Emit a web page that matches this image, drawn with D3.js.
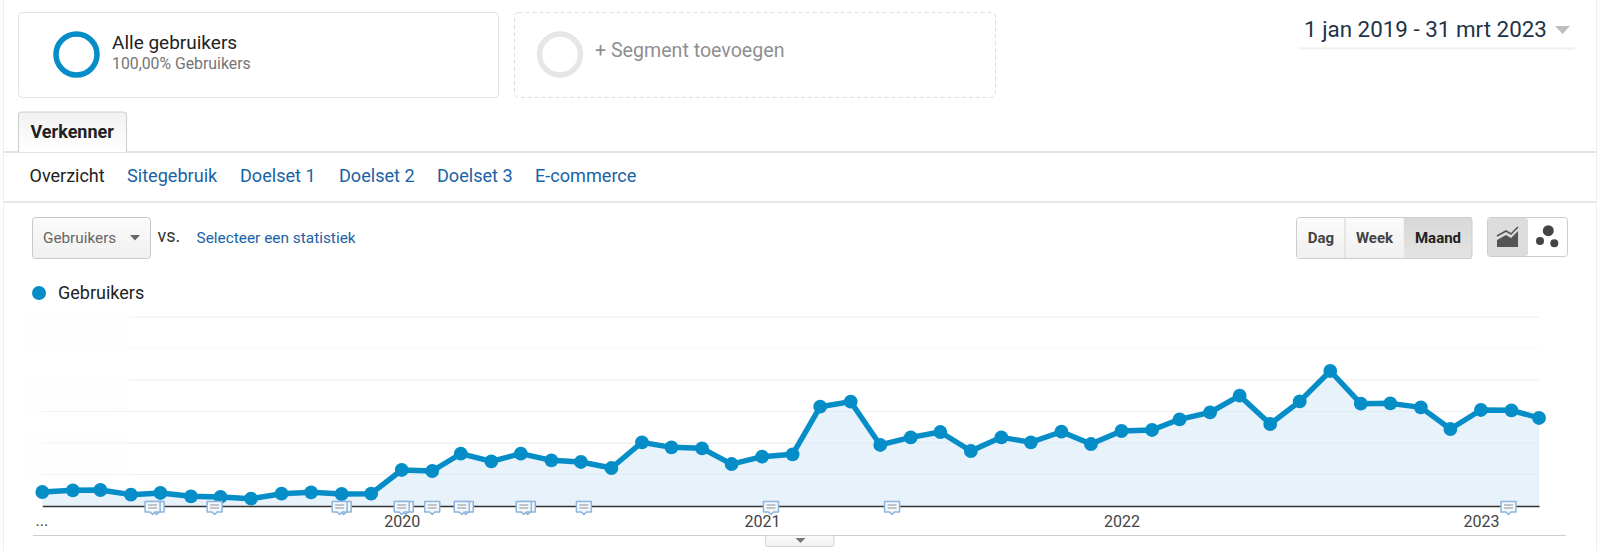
<!DOCTYPE html>
<html>
<head>
<meta charset="utf-8">
<script src="https://d3js.org/d3.v7.min.js"></script>
<style>
  html, body { margin: 0; padding: 0; background: #fff; overflow: hidden; }
  svg { display: block; font-family: Roboto, sans-serif; }
</style>
</head>
<body>
<svg id="chart" width="1600" height="551"></svg>
<script>
// months on the x axis
var months = [
  "2019-01","2019-02","2019-03","2019-04","2019-05","2019-06","2019-07","2019-08","2019-09","2019-10","2019-11","2019-12",
  "2020-01","2020-02","2020-03","2020-04","2020-05","2020-06","2020-07","2020-08","2020-09","2020-10","2020-11","2020-12",
  "2021-01","2021-02","2021-03","2021-04","2021-05","2021-06","2021-07","2021-08","2021-09","2021-10","2021-11","2021-12",
  "2022-01","2022-02","2022-03","2022-04","2022-05","2022-06","2022-07","2022-08","2022-09","2022-10","2022-11","2022-12",
  "2023-01","2023-02","2023-03"
];

// the y labels are blurred in the picture, so the unit is an estimate
var users = [
  444, 498, 508, 359, 413, 308, 286, 232, 390, 435, 381, 390,
  1143, 1111, 1660, 1419, 1660, 1451, 1397, 1206, 2022, 1863, 1832, 1333,
  1565, 1641, 3152, 3311, 1937, 2181, 2349, 1746, 2181, 2022, 2359, 1968,
  2381, 2413, 2752, 2975, 3502, 2603, 3324, 4286, 3248, 3260, 3133, 2444,
  3048, 3038, 2794
];

var gridValues = [1000, 2000, 3000, 4000, 5000, 6000];
var yearTicks = ["2020-01", "2021-01", "2022-01", "2023-01"];
var yearLabels = ["2020", "2021", "2022", "2023"];
var annotationDates = ["2019-04-23","2019-06-25","2019-10-30","2020-01-01","2020-02-01","2020-03-02","2020-05-04","2020-07-04","2021-01-10","2021-05-13","2023-01-29"];
var doubleNotes = ["2019-04-23","2019-10-30","2020-01-01","2020-03-02","2020-05-04"];
var navItems = ["Sitegebruik", "Doelset 1", "Doelset 2", "Doelset 3", "E-commerce"];
var navStarts = [127, 240, 339, 437, 535];

var parseMonth = d3.utcParse("%Y-%m");
var parseDay = d3.utcParse("%Y-%m-%d");
var blue = "#058dc7", link = "#1a62a6";

var svg = d3.select("#chart");
var defs = svg.append("defs");

function gradient(id, top, bottom) {
  var g = defs.append("linearGradient").attr("id", id).attr("x1", 0).attr("x2", 0).attr("y1", 0).attr("y2", 1);
  g.append("stop").attr("offset", "0%").attr("stop-color", top);
  g.append("stop").attr("offset", "100%").attr("stop-color", bottom);
}
gradient("btn", "#fbfbfb", "#f0f0f0");
gradient("tab", "#f1f1f1", "#ffffff");
gradient("active", "#d8d8d8", "#e4e4e4");
defs.append("filter").attr("id", "smudge").attr("x", "-20%").attr("y", "-20%").attr("width", "140%").attr("height", "140%")
  .append("feGaussianBlur").attr("stdDeviation", 4);

function label(x, y, str, size, color, weight, anchor) {
  return svg.append("text").attr("x", x).attr("y", y).text(str)
    .attr("font-size", size).attr("fill", color)
    .attr("font-weight", weight || 400).attr("text-anchor", anchor || "start");
}
function hline(x1, x2, y, color, w) {
  svg.append("line").attr("x1", x1).attr("x2", x2).attr("y1", y).attr("y2", y).attr("stroke", color).attr("stroke-width", w || 1);
}
function box(x, y, w, h, fill, stroke, r) {
  return svg.append("rect").attr("x", x).attr("y", y).attr("width", w).attr("height", h)
    .attr("fill", fill).attr("stroke", stroke).attr("rx", r || 0);
}
function triangle(cx, top, halfW, h, color) {
  svg.append("path").attr("fill", color)
    .attr("d", d3.line()([[cx - halfW, top], [cx + halfW, top], [cx, top + h]]) + "Z");
}

// outer frame
svg.append("line").attr("x1", 3.5).attr("x2", 3.5).attr("y1", 0).attr("y2", 551).attr("stroke", "#eeeeee");
svg.append("line").attr("x1", 1596.5).attr("x2", 1596.5).attr("y1", 0).attr("y2", 551).attr("stroke", "#eeeeee");

// segment cards
box(18.5, 12.5, 480, 85, "#fff", "#e2e2e2", 4);
svg.append("circle").attr("cx", 76.5).attr("cy", 54.5).attr("r", 20.5).attr("fill", "none").attr("stroke", blue).attr("stroke-width", 5.5);
label(112, 49, "Alle gebruikers", 19, "#222");
label(112, 69, "100,00% Gebruikers", 15.8, "#757575");

box(514.5, 12.5, 481, 85, "#fff", "#dddddd", 4).attr("stroke-dasharray", "4 3");
svg.append("circle").attr("cx", 560).attr("cy", 54.5).attr("r", 20.5).attr("fill", "none").attr("stroke", "#e6e6e6").attr("stroke-width", 5.5);
label(595, 57, "+ Segment toevoegen", 19.6, "#8f8f8f");

// date range
label(1304, 37, "1 jan 2019 - 31 mrt 2023", 22.4, "#1f3347");
triangle(1562.5, 26, 7.5, 8, "#bdbdbd");
hline(1299, 1575, 48.5, "#eeeeee", 2);

// tab + nav
hline(4, 1596, 152, "#c9c9c9", 1);
svg.append("path").attr("d", "M18.5,152V115a3,3 0 0 1 3,-3H123.5a3,3 0 0 1 3,3V152")
  .attr("fill", "url(#tab)").attr("stroke", "#cccccc");
label(30.5, 138, "Verkenner", 18, "#222", 700);
label(29.5, 182, "Overzicht", 18, "#222");
svg.selectAll("text.nav").data(navItems).enter().append("text").attr("class", "nav")
  .attr("x", function (d, i) { return navStarts[i]; }).attr("y", 182)
  .attr("font-size", 18.1).attr("fill", link).text(function (d) { return d; });
hline(4, 1596, 202, "#dedede", 1.5);

// metric selector
box(32.5, 217.5, 118, 41, "url(#btn)", "#c8c8c8", 3);
label(43, 243, "Gebruikers", 15.3, "#666");
triangle(135, 235, 5, 5.5, "#666");
label(157.5, 242, "vs.", 18, "#333");
label(196.5, 243, "Selecteer een statistiek", 15.4, link);

// Dag / Week / Maand
box(1403.5, 217.5, 68.5, 41, "url(#active)", "none", 0);
box(1296.5, 217.5, 175.5, 41, "none", "#cccccc", 3);
box(1297, 218, 106.5, 40, "url(#btn)", "none", 3);
svg.append("line").attr("x1", 1345).attr("x2", 1345).attr("y1", 218).attr("y2", 258).attr("stroke", "#d5d5d5");
label(1321, 243, "Dag", 15, "#444", 700, "middle");
label(1374.5, 243, "Week", 15, "#444", 700, "middle");
label(1438, 243, "Maand", 15, "#222", 700, "middle");

// chart type toggle
box(1487.5, 217.5, 80, 39, "#fff", "#cccccc", 3);
box(1488, 218, 40, 38, "#dcdcdc", "none", 3);
svg.append("path").attr("fill", "#555").attr("d", "M1497,240L1506,235L1511,238L1518,231V247H1497Z");
svg.append("path").attr("fill", "none").attr("stroke", "#555").attr("stroke-width", 1.6).attr("d", "M1497,236L1506,231L1511,234L1518,227");
[[1548.3, 230.7, 5.5], [1540, 241, 4], [1554.3, 243.3, 4]].forEach(function (c) {
  svg.append("circle").attr("cx", c[0]).attr("cy", c[1]).attr("r", c[2]).attr("fill", "#444");
});

// legend
svg.append("circle").attr("cx", 39).attr("cy", 293).attr("r", 7).attr("fill", blue);
label(58, 299, "Gebruikers", 18, "#222");

// scales
var x = d3.scaleUtc().domain([parseMonth(months[0]), parseMonth(months[months.length - 1])]).range([42.3, 1539]);
var y = d3.scaleLinear().domain([0, 6000]).range([506, 317]);

// gridlines
svg.append("g").selectAll("line").data(gridValues).enter().append("line")
  .attr("x1", 42).attr("x2", 1539)
  .attr("y1", function (d) { return y(d); }).attr("y2", function (d) { return y(d); })
  .attr("stroke", function (d) { return d % 2000 === 0 ? "#eeeeee" : "#f8f8f8"; });

// blurred away y labels
[[24, 310, 104, 42], [24, 373, 104, 43], [24, 430, 104, 48]].forEach(function (r) {
  svg.append("rect").attr("x", r[0]).attr("y", r[1]).attr("width", r[2]).attr("height", r[3])
    .attr("fill", "#fefefe").attr("filter", "url(#smudge)");
});

var points = months.map(function (m, i) { return { date: parseMonth(m), value: users[i] }; });

svg.append("path").datum(points).attr("fill", "#e7f2fa")
  .attr("d", d3.area().x(function (d) { return x(d.date); }).y0(y(0)).y1(function (d) { return y(d.value); }));

// redraw the grid faintly over the area
svg.append("g").selectAll("line").data(gridValues.slice(0, 3)).enter().append("line")
  .attr("x1", 42).attr("x2", 1539)
  .attr("y1", function (d) { return y(d); }).attr("y2", function (d) { return y(d); })
  .attr("stroke", "#c9d6e0").attr("stroke-opacity", 0.25);

svg.append("path").datum(points).attr("fill", "none").attr("stroke", blue).attr("stroke-width", 5.4)
  .attr("stroke-linejoin", "round")
  .attr("d", d3.line().x(function (d) { return x(d.date); }).y(function (d) { return y(d.value); }));

svg.append("g").selectAll("circle").data(points).enter().append("circle")
  .attr("cx", function (d) { return x(d.date); }).attr("cy", function (d) { return y(d.value); })
  .attr("r", 6.9).attr("fill", blue);

// x axis
var axis = d3.axisBottom(x)
  .tickValues(yearTicks.map(parseMonth))
  .tickSize(0).tickPadding(10)
  .tickFormat(function (d, i) { return yearLabels[i]; });
var axisG = svg.append("g").attr("transform", "translate(0," + y(0) + ")").call(axis);
axisG.select(".domain").attr("stroke", "#333").attr("stroke-width", 1.4);
axisG.selectAll("text").attr("font-size", 16).attr("font-family", "Roboto, sans-serif").attr("fill", "#444");
label(35.5, 526, "...", 16, "#444");

// annotation bubbles
function bubble(g, dx) {
  g.append("path").attr("fill", "#f4f8fd").attr("stroke", "#8db4dc").attr("stroke-width", 1.5).attr("stroke-linejoin", "round")
    .attr("d", "M" + (dx - 7.5) + ",-4.5H" + (dx + 7.5) + "V6H" + (dx + 2.5) + "L" + dx + ",8.5L" + (dx - 2.5) + ",6H" + (dx - 7.5) + "Z");
}
var notes = svg.append("g").selectAll("g").data(annotationDates).enter().append("g")
  .attr("transform", function (d) { return "translate(" + x(parseDay(d)) + "," + y(0) + ")"; });
notes.each(function (d) {
  var g = d3.select(this);
  if (doubleNotes.indexOf(d) >= 0) bubble(g, 4);
  bubble(g, 0);
  g.append("path").attr("stroke", "#8a8f96").attr("stroke-width", 1.2).attr("d", "M-4.5,-1H4.5M-4.5,2H4.5");
});

// bottom rule and handle
hline(33, 1566, 535.5, "#cfcfcf", 1);
box(765.5, 535.5, 68.5, 11, "url(#btn)", "#d4d4d4", 2);
triangle(800.5, 538, 5, 5, "#777");
</script>
</body>
</html>
